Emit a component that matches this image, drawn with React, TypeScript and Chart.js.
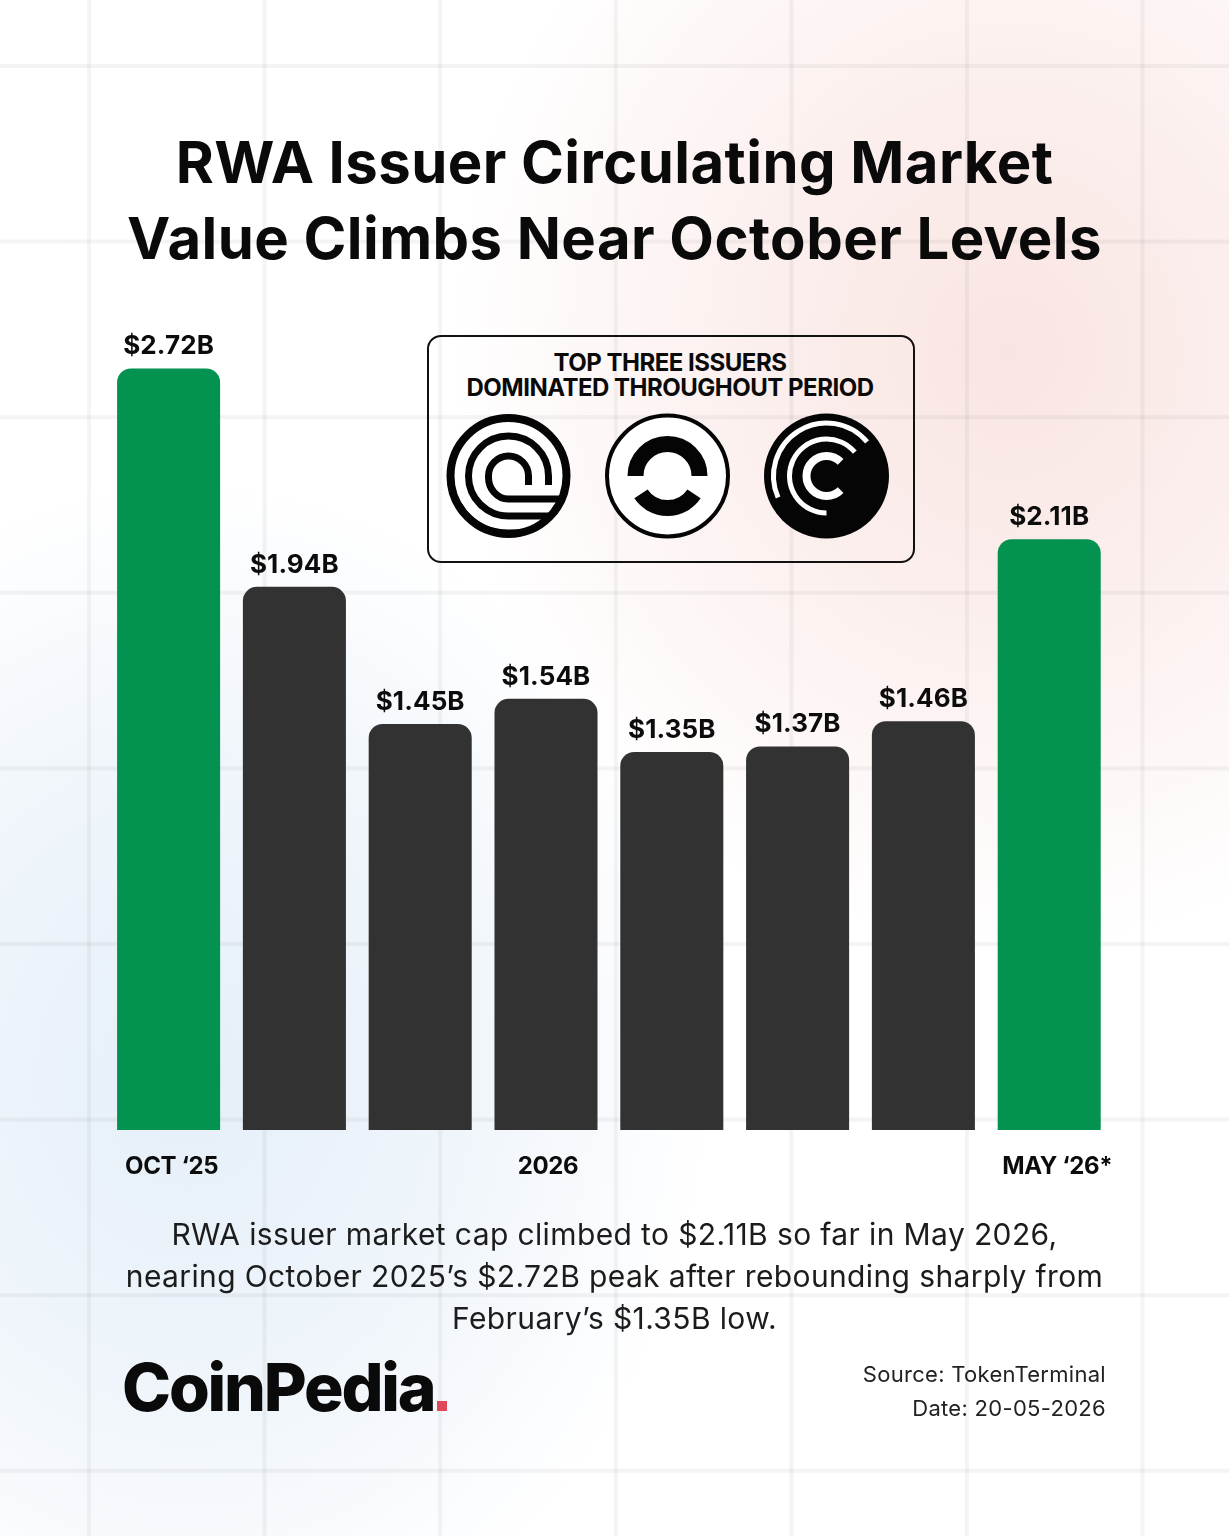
import { useEffect, useRef } from 'react';
import { Chart, registerables } from 'chart.js';

Chart.register(...registerables);

// RWA issuer circulating market value, $B
const months = ['Oct 25', 'Nov 25', 'Dec 25', 'Jan 26', 'Feb 26', 'Mar 26', 'Apr 26', 'May 26'];
const values = [2.72, 1.94, 1.45, 1.54, 1.35, 1.37, 1.46, 2.11];
const highlighted = [true, false, false, false, false, false, false, true];
const tickLabels = ['OCT ‘25', '', '', '2026', '', '', '', 'MAY ‘26*'];
const tickNudge = [3, 0, 0, 2, 0, 0, 0, 8];

const GREEN = '#03924f';
const DARK = '#323232';
const FONT = 'Inter, "Liberation Sans", sans-serif';

// value labels above the bars + the sparse month labels under them
const labelsPlugin = {
  id: 'barLabels',
  afterDatasetsDraw(chart: any) {
    const { ctx, scales } = chart;
    const bars = chart.getDatasetMeta(0).data;
    ctx.save();
    ctx.fillStyle = '#0c0c0c';
    ctx.textAlign = 'center';
    ctx.textBaseline = 'middle';
    ctx.font = `700 26px ${FONT}`;
    ctx.letterSpacing = '0.1px';
    bars.forEach((bar: any, i: number) => {
      ctx.fillText(`$${values[i].toFixed(2)}B`, bar.x, bar.y - 22);
    });
    ctx.font = `700 24px ${FONT}`;
    ctx.letterSpacing = '-0.4px';
    tickLabels.forEach((label, i) => {
      if (label) ctx.fillText(label, scales.x.getPixelForTick(i) + tickNudge[i], scales.y.getPixelForValue(0) + 37);
    });
    ctx.restore();
  },
};

function polar(r: number, deg: number) {
  const a = (deg * Math.PI) / 180;
  return `${(r * Math.cos(a)).toFixed(2)} ${(r * Math.sin(a)).toFixed(2)}`;
}

// arc running clockwise on screen from one angle to another
function arc(r: number, from: number, to: number) {
  const sweep = ((to - from) % 360 + 360) % 360;
  return `M${polar(r, from)} A${r} ${r} 0 ${sweep > 180 ? 1 : 0} 1 ${polar(r, to)}`;
}

function IssuerLogos() {
  return (
    <svg width={486} height={140} viewBox="0 0 486 140" style={{ position: 'absolute', left: 428, top: 406 }}>
      <defs>
        <clipPath id="disc">
          <circle cx="0" cy="0" r="60" />
        </clipPath>
      </defs>
      <g transform="translate(80.5 70)">
        <circle r="62" fill="#fff" stroke="none" />
        <g clipPath="url(#disc)" fill="none" stroke="#050505" strokeWidth="7">
          <path d="M20 9 V0 A20 20 0 0 0 -20 0 A20 22 0 0 0 0 23 H70" />
          <path d="M40 9 V0 A40 40 0 0 0 -40 0 A40 40 0 0 0 0 40 H70" />
          <path d="M-58 -8 A58 58 0 0 0 0 57 H70" />
        </g>
        <circle r="58" fill="none" stroke="#050505" strokeWidth="8" />
      </g>
      <g transform="translate(239.5 70)">
        <circle r="60.5" fill="#fff" stroke="#050505" strokeWidth="4" />
        <path d={arc(32, 180, 360)} fill="none" stroke="#050505" strokeWidth="16" />
        <path d={arc(32, 34, 146)} fill="none" stroke="#050505" strokeWidth="16" />
      </g>
      <g transform="translate(398.5 70)">
        <circle r="62.5" fill="#050505" />
        <g fill="none" stroke="#fff">
          <path d={arc(53, 156, 320)} strokeWidth="5" />
          <path d={arc(37, 90, 320)} strokeWidth="5" />
          <path d={arc(20, 45, 315)} strokeWidth="8" />
        </g>
      </g>
    </svg>
  );
}

const textBase: any = { position: 'absolute', whiteSpace: 'nowrap', fontFamily: FONT, color: '#0a0a0a' };

export default function App() {
  const chartRef = useRef<HTMLCanvasElement>(null);

  useEffect(() => {
    if (!chartRef.current) return;
    const chart = new Chart(chartRef.current, {
      type: 'bar',
      data: {
        labels: months,
        datasets: [
          {
            data: values,
            backgroundColor: highlighted.map((h) => (h ? GREEN : DARK)),
            borderRadius: { topLeft: 14, topRight: 14, bottomLeft: 0, bottomRight: 0 },
            borderSkipped: false,
            categoryPercentage: 1,
            barPercentage: 0.819,
          },
        ],
      },
      options: {
        animation: false,
        responsive: false,
        layout: { padding: { left: 105.7, right: 116.9, top: 290, bottom: 406 } },
        plugins: { legend: { display: false }, tooltip: { enabled: false }, title: { display: false } },
        scales: {
          x: { display: false },
          y: { display: false, min: 0, max: 3 },
        },
      },
      plugins: [labelsPlugin],
    });
    return () => chart.destroy();
  }, []);

  return (
    <div
      style={{
        position: 'absolute',
        left: 0,
        top: 0,
        width: 1229,
        height: 1536,
        overflow: 'hidden',
        backgroundColor: '#fff',
        backgroundImage: [
          'linear-gradient(to right, rgba(40,40,40,0.05) 4px, transparent 4px)',
          'linear-gradient(to bottom, rgba(40,40,40,0.05) 4px, transparent 4px)',
          'radial-gradient(ellipse 560px 600px at 1010px 350px, rgba(248,226,223,0.9), rgba(248,226,223,0.55) 45%, rgba(248,226,223,0) 100%)',
          'radial-gradient(ellipse 520px 600px at 190px 1080px, rgba(228,238,248,0.95), rgba(228,238,248,0.6) 50%, rgba(228,238,248,0) 100%)',
        ].join(','),
        backgroundSize: '175.6px 175.6px, 175.6px 175.6px, 100% 100%, 100% 100%',
        backgroundPosition: '87px 0, 0 64px, 0 0, 0 0',
      }}
    >
      <div style={{ ...textBase, left: 0, width: 1229, top: 124, textAlign: 'center', fontSize: 58, fontWeight: 700, lineHeight: '76px', letterSpacing: '0.45px' }}>
        RWA Issuer Circulating Market
        <br />
        Value Climbs Near October Levels
      </div>

      <div style={{ position: 'absolute', left: 427, top: 335, width: 488, height: 228, boxSizing: 'border-box', border: '2px solid #111', borderRadius: 14 }} />
      <div style={{ ...textBase, left: 428, width: 484, top: 350, textAlign: 'center', fontSize: 24, fontWeight: 700, lineHeight: '25px', letterSpacing: '-0.5px' }}>
        TOP THREE ISSUERS
        <br />
        DOMINATED THROUGHOUT PERIOD
      </div>
      <IssuerLogos />

      <canvas ref={chartRef} width={1229} height={1536} style={{ position: 'absolute', left: 0, top: 0 }} />

      <div style={{ ...textBase, left: 0, width: 1229, top: 1213, textAlign: 'center', fontSize: 30, fontWeight: 400, lineHeight: '42px', color: '#1c1c1c', letterSpacing: '0.38px' }}>
        RWA issuer market cap climbed to $2.11B so far in May 2026,
        <br />
        nearing October 2025’s $2.72B peak after rebounding sharply from
        <br />
        February’s $1.35B low.
      </div>

      <div style={{ ...textBase, left: 122, top: 1347, fontSize: 66, fontWeight: 800, lineHeight: '80px', letterSpacing: '-2.2px' }}>
        CoinPedia
      </div>
      <div style={{ position: 'absolute', left: 437, top: 1401, width: 10, height: 10, background: '#e0475a' }} />

      <div style={{ ...textBase, right: 123, top: 1357, textAlign: 'right', fontSize: 22, lineHeight: '34px', color: '#222', letterSpacing: '0.3px' }}>
        Source: TokenTerminal
        <br />
        Date: 20-05-2026
      </div>
    </div>
  );
}
